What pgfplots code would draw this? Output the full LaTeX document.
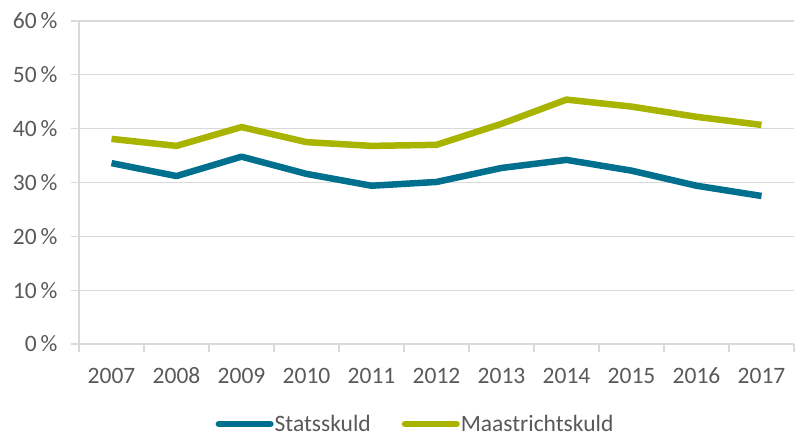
\documentclass[border=0pt]{standalone}
\usepackage{pgfplots}
\pgfplotsset{compat=1.18}
\usepackage{fontspec}
\setmainfont{Carlito}
\definecolor{txt}{HTML}{595959}
\definecolor{gridc}{HTML}{D9D9D9}
\definecolor{blu}{HTML}{00708E}
\definecolor{grn}{HTML}{A8B400}
\begin{document}
\begin{tikzpicture}[x=1pt,y=1pt]
\path (-79,-93) rectangle (719,344);
\begin{axis}[
  at={(0,0)}, anchor=south west,
  scale only axis, width=715pt, height=323pt,
  xmin=-0.5, xmax=10.5, ymin=0, ymax=60,
  axis x line*=bottom, axis y line*=left,
  axis line style={gridc, line width=1.3pt},
  xtick={0,...,10},
  xticklabels={2007,2008,2009,2010,2011,2012,2013,2014,2015,2016,2017},
  minor xtick={-0.5,0.5,...,10.5},
  ytick={0,10,...,60},
  yticklabel={\pgfmathprintnumber{\tick}\,\%},
  /pgf/number format/assume math mode=true,
  ymajorgrids, major grid style={gridc, line width=1.3pt},
  tick align=outside,
  x tick style={draw=none},
  minor x tick style={gridc, line width=1.3pt, draw=gridc},
  y tick style={gridc, line width=1.3pt},
  major tick length=8pt, minor tick length=8pt,
  tick label style={font=\fontsize{23.5}{26}\selectfont, text=txt},
  xticklabel style={yshift=-12pt, text height=16pt, text depth=0pt},
  yticklabel style={xshift=-10pt},
  legend style={at={(336pt,-80pt)}, anchor=center, draw=none, fill=none,
    legend columns=2, font=\fontsize{23.5}{26}\selectfont, text=txt,
    inner sep=0pt, nodes={inner sep=1pt, text height=15pt, text depth=1pt},
    /tikz/every even column/.append style={column sep=30pt}},
  legend cell align=left,
  legend image code/.code={\draw[#1, line width=6pt, line cap=round] (0pt,0pt) -- (52pt,0pt);},
]
\addplot[blu, line width=6.5pt, line join=round] coordinates {
(0,33.6)(1,31.2)(2,34.8)(3,31.6)(4,29.4)(5,30.1)(6,32.7)(7,34.2)(8,32.2)(9,29.4)(10,27.5)};
\addlegendentry{Statsskuld}
\addplot[grn, line width=6.5pt, line join=round] coordinates {
(0,38.1)(1,36.8)(2,40.3)(3,37.5)(4,36.8)(5,37.0)(6,40.9)(7,45.4)(8,44.1)(9,42.2)(10,40.7)};
\addlegendentry{Maastrichtskuld}
\end{axis}
\end{tikzpicture}
\end{document}
